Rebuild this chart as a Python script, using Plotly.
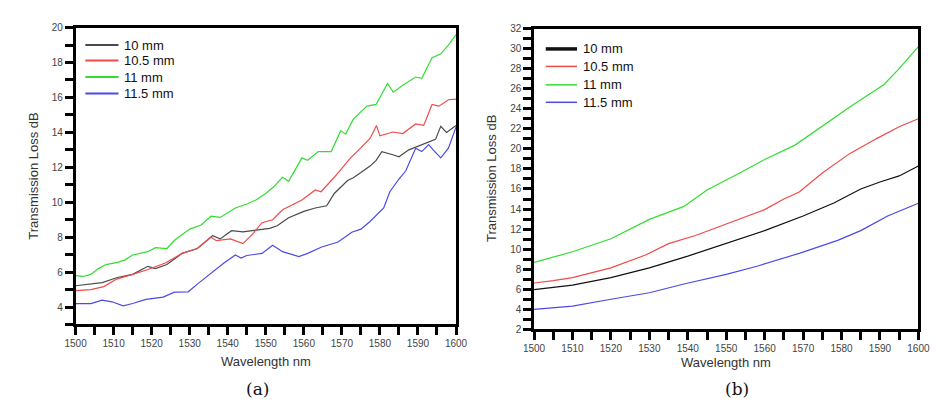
import plotly.graph_objects as go

# ---------------- data: panel (a) ----------------
a_labels = ["10 mm", "10.5 mm", "11 mm", "11.5 mm"]

a_x_10 = [1500, 1504, 1507, 1511, 1515, 1519, 1521, 1524, 1528, 1532, 1536, 1538, 1541, 1544,
          1547, 1551, 1553, 1556, 1560, 1563, 1566, 1568, 1571.5, 1573, 1575, 1577.4, 1579,
          1580.5, 1583.4, 1585, 1587.6, 1591, 1594.6, 1596, 1597.5, 1600]
a_y_10 = [5.22, 5.3, 5.4, 5.69, 5.87, 6.33, 6.2, 6.43, 7.07, 7.35, 8.09, 7.9, 8.37, 8.3,
          8.37, 8.5, 8.65, 9.11, 9.48, 9.67, 9.8, 10.5, 11.24, 11.4, 11.7, 12.07, 12.4,
          12.9, 12.72, 12.6, 13.0, 13.3, 13.6, 14.35, 14.0, 14.4]

a_x_105 = [1500, 1504, 1507.4, 1510.8, 1515, 1519, 1523.6, 1528, 1532, 1535.6, 1537, 1540.7,
           1544, 1546.5, 1549, 1551.8, 1554.4, 1559.5, 1563, 1564.5, 1568, 1569.5, 1572.3,
           1574.9, 1577.4, 1579.1, 1580, 1583.4, 1586, 1589.4, 1591.5, 1593.7, 1595.5, 1598, 1600]
a_y_105 = [4.94, 5.0, 5.17, 5.6, 5.87, 6.15, 6.52, 7.07, 7.35, 8.0, 7.8, 7.9,
           7.63, 8.17, 8.83, 9.0, 9.57, 10.13, 10.7, 10.6, 11.43, 11.8, 12.54,
           13.1, 13.65, 14.39, 13.8, 14.02, 13.93, 14.48, 14.4, 15.6, 15.5, 15.87, 15.9]

a_x_11 = [1500, 1502, 1504, 1506, 1508, 1511, 1513, 1515, 1519, 1521, 1524, 1526, 1530, 1533,
          1535.6, 1538, 1542, 1545, 1547.4, 1550, 1552, 1554.4, 1556, 1559.5, 1561, 1563.8,
          1567.2, 1569.7, 1571, 1573, 1576.6, 1579, 1582, 1583.5, 1586, 1589.4, 1591, 1593.7,
          1596, 1598, 1600]
a_y_11 = [5.8, 5.75, 5.87, 6.2, 6.43, 6.56, 6.7, 6.98, 7.17, 7.4, 7.35, 7.82, 8.46, 8.7,
          9.2, 9.13, 9.67, 9.9, 10.13, 10.5, 10.87, 11.43, 11.2, 12.54, 12.4, 12.9,
          12.9, 14.1, 13.9, 14.76, 15.5, 15.6, 16.8, 16.3, 16.7, 17.17, 17.1, 18.28,
          18.5, 19.0, 19.6]

a_x_115 = [1500, 1504, 1507, 1509.6, 1512.5, 1515, 1518.5, 1523, 1526, 1529.6, 1532, 1535.6,
           1539, 1542, 1543.5, 1545, 1549, 1551.8, 1554.4, 1558.7, 1561, 1564.7, 1569, 1572.6,
           1575, 1577.4, 1581, 1582.6, 1585, 1586.8, 1589.4, 1591, 1592.8, 1594, 1596, 1598, 1600]
a_y_115 = [4.2, 4.2, 4.39, 4.3, 4.07, 4.2, 4.44, 4.57, 4.85, 4.87, 5.31, 5.96,
           6.52, 6.98, 6.8, 6.95, 7.07, 7.54, 7.17, 6.89, 7.07, 7.44, 7.72, 8.28,
           8.46, 8.9, 9.67, 10.6, 11.33, 11.8, 13.09, 12.9, 13.3, 13.0, 12.54, 13.1, 14.3]

# ---------------- data: panel (b) ----------------
b_x_10 = [1500, 1510, 1520, 1530, 1540, 1550, 1560, 1570, 1578, 1585, 1590, 1595, 1600]
b_y_10 = [5.97, 6.42, 7.16, 8.13, 9.3, 10.55, 11.85, 13.3, 14.6, 16.0, 16.7, 17.3, 18.3]

b_x_105 = [1500, 1505, 1510, 1520, 1529, 1535, 1542, 1551, 1560, 1565, 1569, 1575, 1582, 1589, 1595, 1600]
b_y_105 = [6.62, 6.85, 7.16, 8.13, 9.42, 10.55, 11.36, 12.65, 13.94, 15.0, 15.7, 17.6, 19.5, 21.0, 22.2, 23.0]

b_x_11 = [1500, 1510, 1520, 1530, 1539, 1545, 1553, 1560, 1568, 1575, 1583, 1591, 1595, 1600]
b_y_11 = [8.68, 9.74, 11.03, 12.97, 14.26, 15.9, 17.5, 18.94, 20.4, 22.3, 24.4, 26.4, 28.0, 30.2]

b_x_115 = [1500, 1510, 1520, 1530, 1539, 1550, 1558, 1569, 1579, 1585, 1592, 1600]
b_y_115 = [4.0, 4.32, 5.0, 5.65, 6.52, 7.49, 8.29, 9.58, 10.87, 11.85, 13.3, 14.58]

x_ticks = list(range(1500, 1601, 5))
x_labels = [str(v) if v % 10 == 0 else "" for v in x_ticks]
a_y_ticks = list(range(3, 21))
a_y_labels = [str(v) if v % 2 == 0 else "" for v in a_y_ticks]
b_y_ticks = list(range(2, 33))
b_y_labels = [str(v) if v % 2 == 0 else "" for v in b_y_ticks]

x_range = [1500, 1600]
a_y_range = [3, 20]
b_y_range = [2, 32]

a_colors = ["#4a4a4a", "#f04a4a", "#33dd33", "#4a4ae8"]
b_colors = ["#111111", "#f04a4a", "#33dd33", "#4a4ae8"]
FONT = "Liberation Sans"

fig = go.Figure()

a_series = [(a_x_10, a_y_10), (a_x_105, a_y_105), (a_x_11, a_y_11), (a_x_115, a_y_115)]
b_series = [(b_x_10, b_y_10), (b_x_105, b_y_105), (b_x_11, b_y_11), (b_x_115, b_y_115)]

for (xs, ys), lab, col in zip(a_series, a_labels, a_colors):
    fig.add_trace(go.Scatter(x=xs, y=ys, mode="lines", name=lab, showlegend=False,
                             line=dict(color=col, width=1.2), xaxis="x", yaxis="y"))
for (xs, ys), lab, col in zip(b_series, a_labels, b_colors):
    fig.add_trace(go.Scatter(x=xs, y=ys, mode="lines", name=lab, showlegend=False,
                             line=dict(color=col, width=1.2), xaxis="x2", yaxis="y2"))

W, H = 938, 404
xa_dom = [58 / W, 448 / W]
ya_dom = [1 - 320 / H, 1 - 14 / H]
xb_dom = [528 / W, 922 / W]
yb_dom = [1 - 325 / H, 1 - 15 / H]

fig.update_layout(
    width=W, height=H,
    margin=dict(l=0, r=0, t=0, b=0),
    paper_bgcolor="white", plot_bgcolor="white",
    font=dict(family=FONT, color="#222"),
    showlegend=False,
    xaxis=dict(domain=xa_dom, range=x_range, anchor="y",
               tickvals=x_ticks, ticktext=x_labels),
    yaxis=dict(domain=ya_dom, range=a_y_range, anchor="x",
               tickvals=a_y_ticks, ticktext=a_y_labels),
    xaxis2=dict(domain=xb_dom, range=x_range, anchor="y2",
                tickvals=x_ticks, ticktext=x_labels),
    yaxis2=dict(domain=yb_dom, range=b_y_range, anchor="x2",
                tickvals=b_y_ticks, ticktext=b_y_labels),
)

fig.update_xaxes(showline=True, linewidth=2.5, linecolor="#000000", mirror=True,
                 ticks="outside", ticklen=8, tickwidth=2.5, tickcolor="#000000",
                 layer="above traces",
                 tickfont=dict(family=FONT, size=10, color="#444"))
fig.update_yaxes(showline=True, linewidth=2.5, linecolor="#000000", mirror=True,
                 ticks="outside", ticklen=8, tickwidth=2.5, tickcolor="#000000",
                 layer="above traces",
                 tickfont=dict(family=FONT, size=10, color="#444"))

# legends drawn as line sample + text
legend_font = dict(family=FONT, size=13, color="#111")
legends = [
    (a_colors, [2, 2, 2, 2], 68, 102, 106, [32, 48, 65, 82]),
    (b_colors, [3.5, 1.5, 1.5, 1.5], 540, 572, 576, [36, 54, 73, 91]),
]
for cols, widths, x0, x1, xt, rows in legends:
    for col, w, lab, py in zip(cols, widths, a_labels, rows):
        fig.add_shape(type="line", xref="paper", yref="paper",
                      x0=x0 / W, x1=x1 / W, y0=1 - py / H, y1=1 - py / H,
                      line=dict(color=col, width=w))
        fig.add_annotation(text=lab, xref="paper", yref="paper", x=xt / W, y=1 - py / H,
                           showarrow=False, xanchor="left", yanchor="middle",
                           font=legend_font)

title_font = dict(family=FONT, size=13, color="#333")
anns = [
    dict(text="Wavelength nm", x=(58 + 448) / 2 / W, y=1 - 358 / H),
    dict(text="Wavelength nm", x=(528 + 922) / 2 / W, y=1 - 359 / H),
    dict(text="Transmission Loss dB", x=14 / W, y=1 - 167 / H, textangle=-90),
    dict(text="Transmission Loss dB", x=485 / W, y=1 - 170 / H, textangle=-90),
]
for a in anns:
    fig.add_annotation(xref="paper", yref="paper", showarrow=False,
                       xanchor="center", yanchor="middle", font=title_font, **a)

for txt, xp in [("(a)", 245), ("(b)", 736)]:
    fig.add_annotation(text=txt, xref="paper", yref="paper", x=xp / W, y=1 - 386 / H,
                       showarrow=False, xanchor="center", yanchor="middle",
                       font=dict(family="DejaVu Serif", size=17, color="#111"))

fig.write_html("out.html")
